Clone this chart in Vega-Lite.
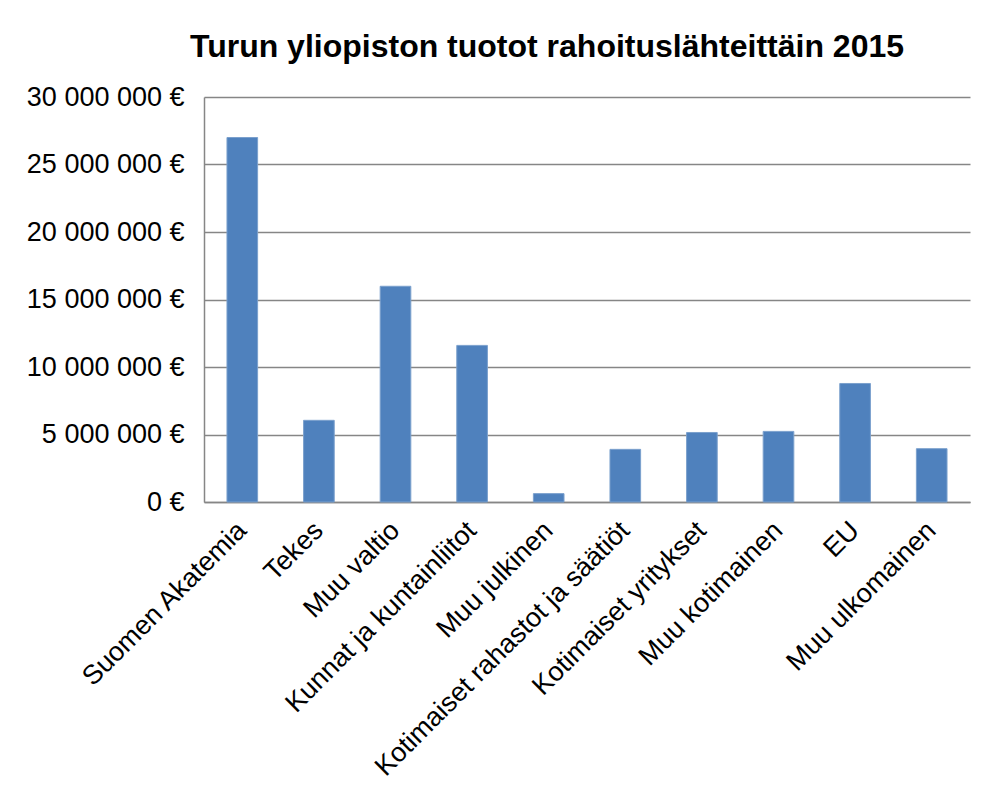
{
  "$schema": "https://vega.github.io/schema/vega-lite/v6.json",
  "autosize": "none",
  "width": 766,
  "height": 405,
  "padding": {"left": 204, "top": 97, "right": 22, "bottom": 292},
  "background": "white",
  "title": {
    "text": "Turun yliopiston tuotot rahoituslähteittäin 2015",
    "font": "Liberation Sans",
    "fontSize": 32,
    "fontWeight": "bold",
    "color": "black",
    "anchor": "middle",
    "dx": -40,
    "offset": 19
  },
  "data": {
    "values": [
      {"lahde": "Suomen Akatemia", "tuotot": 27000000},
      {"lahde": "Tekes", "tuotot": 6050000},
      {"lahde": "Muu valtio", "tuotot": 15980000},
      {"lahde": "Kunnat ja kuntainliitot", "tuotot": 11600000},
      {"lahde": "Muu julkinen", "tuotot": 620000},
      {"lahde": "Kotimaiset rahastot ja säätiöt", "tuotot": 3900000},
      {"lahde": "Kotimaiset yritykset", "tuotot": 5150000},
      {"lahde": "Muu kotimainen", "tuotot": 5230000},
      {"lahde": "EU", "tuotot": 8780000},
      {"lahde": "Muu ulkomainen", "tuotot": 3950000}
    ]
  },
  "mark": {"type": "bar", "color": "#4F81BD", "stroke": "#7BA0CD", "strokeWidth": 1},
  "encoding": {
    "x": {
      "field": "lahde",
      "type": "nominal",
      "sort": null,
      "title": null,
      "scale": {"paddingInner": 0.6, "paddingOuter": 0.3},
      "axis": {
        "labelAngle": -45,
        "labelAlign": "right",
        "labelBaseline": "middle",
        "labelFont": "Liberation Sans",
        "labelFontSize": 27,
        "labelColor": "black",
        "labelPadding": 24,
        "labelLimit": 0,
        "ticks": false,
        "domainColor": "#868686",
        "domainWidth": 1.5,
        "grid": false
      }
    },
    "y": {
      "field": "tuotot",
      "type": "quantitative",
      "title": null,
      "scale": {"domain": [0, 30000000], "nice": false},
      "axis": {
        "values": [0, 5000000, 10000000, 15000000, 20000000, 25000000, 30000000],
        "format": ",d",
        "labelExpr": "replace(datum.label, regexp(',', 'g'), ' ') + ' €'",
        "labelFont": "Liberation Sans",
        "labelFontSize": 27,
        "labelColor": "black",
        "labelPadding": 20,
        "ticks": false,
        "domainColor": "#868686",
        "domainWidth": 1.5,
        "grid": true,
        "gridColor": "#868686",
        "gridWidth": 1.5
      }
    }
  },
  "config": {"view": {"stroke": null}}
}
